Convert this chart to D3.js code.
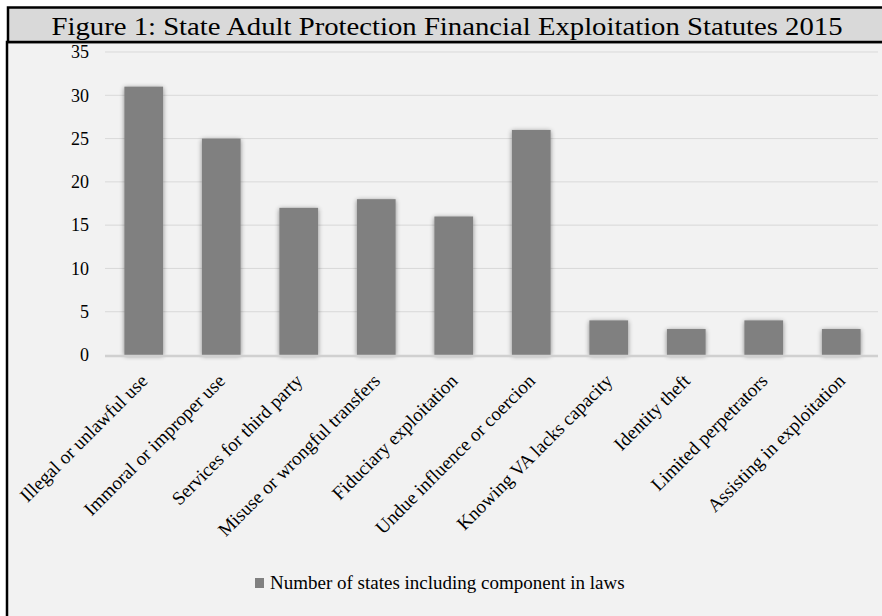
<!DOCTYPE html>
<html>
<head>
<meta charset="utf-8">
<script src="https://cdn.jsdelivr.net/npm/d3@7"></script>
<style>
  body { margin: 0; background: #fff; }
  text { font-family: "Liberation Serif", "DejaVu Serif", serif; fill: #000; }
</style>
</head>
<body>
<div id="chart"></div>
<script>
/* DATA */
const categories = [
  "Illegal or unlawful use",
  "Immoral or improper use",
  "Services for third party",
  "Misuse or wrongful transfers",
  "Fiduciary exploitation",
  "Undue influence or coercion",
  "Knowing VA lacks capacity",
  "Identity theft",
  "Limited perpetrators",
  "Assisting in exploitation"
];
const values = [31, 25, 17, 18, 16, 26, 4, 3, 4, 3];
const yTicks = [0, 5, 10, 15, 20, 25, 30, 35];
const seriesName = "Number of states including component in laws";
const title = "Figure 1: State Adult Protection Financial Exploitation Statutes 2015";

/* LAYOUT */
const width = 882, height = 616;
const margin = { top: 52, bottom: 261, left: 105, right: 2 };

const svg = d3.select("#chart")
  .append("svg")
  .attr("width", width)
  .attr("height", height);

// soft shadow for bars
const defs = svg.append("defs");
const f = defs.append("filter").attr("id", "shadow")
  .attr("x", "-30%").attr("y", "-20%").attr("width", "160%").attr("height", "140%");
f.append("feGaussianBlur").attr("in", "SourceAlpha").attr("stdDeviation", 2.5).attr("result", "b");
f.append("feOffset").attr("in", "b").attr("dx", 0).attr("dy", 1).attr("result", "o");
f.append("feComponentTransfer").attr("in", "o").attr("result", "s")
  .append("feFuncA").attr("type", "linear").attr("slope", 0.45);
const fm = f.append("feMerge");
fm.append("feMergeNode").attr("in", "s");
fm.append("feMergeNode").attr("in", "SourceGraphic");

// chart background + border
svg.append("rect")
  .attr("x", 7).attr("y", 42)
  .attr("width", width).attr("height", height)
  .attr("fill", "#f2f2f2")
  .attr("stroke", "#000").attr("stroke-width", 2.5);

// title box
svg.append("rect")
  .attr("x", 8).attr("y", 7.5)
  .attr("width", width).attr("height", 34.5)
  .attr("fill", "#d9d9d9")
  .attr("stroke", "#000").attr("stroke-width", 2.5);

svg.append("text")
  .attr("x", 447).attr("y", 35)
  .attr("text-anchor", "middle")
  .attr("font-size", 25)
  .attr("textLength", 791)
  .attr("lengthAdjust", "spacingAndGlyphs")
  .text(title);

/* SCALES */
const xScale = d3.scaleBand()
  .domain(categories)
  .range([margin.left, width - margin.right])
  .paddingInner(0.5)
  .paddingOuter(0.25);

const yScale = d3.scaleLinear()
  .domain([0, 35])
  .range([height - margin.bottom, margin.top]);

// gridlines
svg.append("g")
  .selectAll("line")
  .data(yTicks.filter(d => d > 0))
  .join("line")
  .attr("x1", margin.left)
  .attr("x2", width - 4)
  .attr("y1", d => yScale(d))
  .attr("y2", d => yScale(d))
  .attr("stroke", "#d9d9d9")
  .attr("stroke-width", 1);

// y axis
const yAxis = d3.axisLeft(yScale).tickValues(yTicks).tickSize(0).tickPadding(0);
svg.append("g")
  .attr("class", "axis y-axis")
  .attr("transform", `translate(89,0)`)
  .call(yAxis)
  .call(g => g.select(".domain").remove())
  .call(g => g.selectAll("text")
    .attr("font-size", 18)
    .attr("font-family", "Liberation Serif, serif")
    .attr("fill", "#000"));

// bars
svg.append("g")
  .selectAll("rect")
  .data(values)
  .join("rect")
  .attr("x", (d, i) => xScale(categories[i]))
  .attr("width", xScale.bandwidth())
  .attr("y", d => yScale(d))
  .attr("height", d => yScale(0) - yScale(d))
  .attr("fill", "#808080")
  .attr("filter", "url(#shadow)");

// zero line
svg.append("line")
  .attr("x1", margin.left).attr("x2", width - 4)
  .attr("y1", yScale(0) + 1).attr("y2", yScale(0) + 1)
  .attr("stroke", "#d0d0d0").attr("stroke-width", 2.5);

// x axis labels
const xAxis = d3.axisBottom(xScale).tickSize(0).tickPadding(0);
svg.append("g")
  .attr("class", "axis x-axis")
  .attr("transform", `translate(0,${yScale(0)})`)
  .call(xAxis)
  .call(g => g.select(".domain").remove())
  .call(g => g.selectAll("text")
    .attr("font-size", 19)
    .attr("font-family", "Liberation Serif, serif")
    .attr("fill", "#000")
    .attr("text-anchor", "end")
    .attr("dy", null)
    .attr("y", 0)
    .attr("transform", "translate(5,27) rotate(-45)"));

// legend
const legend = svg.append("g").attr("transform", "translate(255,578)");
legend.append("rect")
  .attr("width", 9).attr("height", 10)
  .attr("fill", "#808080");
legend.append("text")
  .attr("x", 15).attr("y", 11)
  .attr("font-size", 19)
  .text(seriesName);
</script>
</body>
</html>
